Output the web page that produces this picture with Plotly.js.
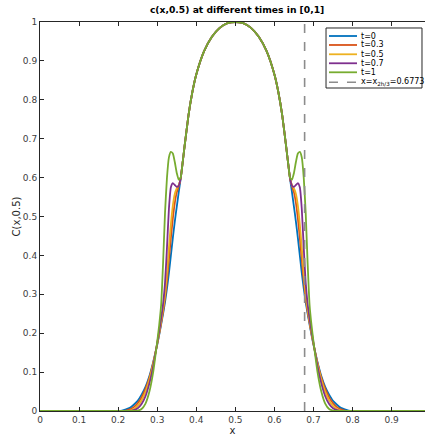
<!DOCTYPE html>
<html>
<head>
<meta charset="utf-8">
<script src="https://cdn.plot.ly/plotly-3.0.1.min.js"></script>
<style>html,body{margin:0;padding:0;background:#fff;}#chart{width:425px;height:437px;}</style>
</head>
<body>
<div id="chart"></div>
<script>
// x grid (left half, center, right half)
const xLeft = [0, 0.20, 0.21, 0.22, 0.23, 0.24, 0.25, 0.26, 0.27, 0.28, 0.29, 0.30, 0.305, 0.31, 0.315, 0.32, 0.325, 0.33, 0.335, 0.34, 0.345, 0.35, 0.355, 0.36, 0.365, 0.37, 0.38, 0.39, 0.40, 0.42, 0.44, 0.46, 0.48];
const xCenter = [0.50];
const xRight = [0.52, 0.54, 0.56, 0.58, 0.60, 0.61, 0.62, 0.63, 0.635, 0.64, 0.645, 0.65, 0.655, 0.66, 0.665, 0.67, 0.675, 0.68, 0.685, 0.69, 0.695, 0.70, 0.71, 0.72, 0.73, 0.74, 0.75, 0.76, 0.77, 0.78, 0.79, 0.80, 1.0];

// values, left half (same x order as xLeft)
const domeLeft = [0.68, 0.76, 0.82, 0.865, 0.925, 0.962, 0.985, 0.997];
const t0Left   = [0, 0, 0.001, 0.004, 0.008, 0.016, 0.026, 0.042, 0.062, 0.090, 0.127, 0.170, 0.195, 0.222, 0.250, 0.280, 0.315, 0.355, 0.400, 0.445, 0.487, 0.525, 0.562, 0.597, 0.638];
const t03Left  = [0, 0, 0, 0.001, 0.004, 0.010, 0.020, 0.035, 0.057, 0.086, 0.125, 0.172, 0.198, 0.226, 0.255, 0.290, 0.335, 0.390, 0.445, 0.495, 0.535, 0.562, 0.578, 0.598, 0.638];
const t05Left  = [0, 0, 0, 0, 0.001, 0.005, 0.013, 0.027, 0.049, 0.081, 0.122, 0.173, 0.200, 0.230, 0.262, 0.300, 0.355, 0.420, 0.480, 0.528, 0.558, 0.572, 0.580, 0.598, 0.638];
const t07Left  = [0, 0, 0, 0, 0, 0.002, 0.007, 0.018, 0.038, 0.071, 0.116, 0.175, 0.205, 0.238, 0.275, 0.330, 0.420, 0.520, 0.575, 0.586, 0.581, 0.576, 0.579, 0.598, 0.638];
const t1Left   = [0, 0, 0, 0, 0, 0, 0.001, 0.005, 0.019, 0.050, 0.102, 0.178, 0.220, 0.272, 0.380, 0.510, 0.600, 0.652, 0.666, 0.662, 0.640, 0.612, 0.595, 0.600, 0.638];
const centerVal = [1.0];

// values, right half (same x order as xRight)
const domeRight = [0.997, 0.985, 0.962, 0.925, 0.865, 0.82, 0.76, 0.68];
const t0Right   = [0.638, 0.597, 0.562, 0.525, 0.487, 0.445, 0.400, 0.355, 0.315, 0.280, 0.250, 0.222, 0.195, 0.170, 0.127, 0.090, 0.062, 0.042, 0.026, 0.016, 0.008, 0.004, 0.001, 0, 0];
const t03Right  = [0.638, 0.598, 0.578, 0.562, 0.535, 0.495, 0.445, 0.390, 0.335, 0.290, 0.255, 0.226, 0.198, 0.172, 0.125, 0.086, 0.057, 0.035, 0.020, 0.010, 0.004, 0.001, 0, 0, 0];
const t05Right  = [0.638, 0.598, 0.580, 0.572, 0.558, 0.528, 0.480, 0.420, 0.355, 0.300, 0.262, 0.230, 0.200, 0.173, 0.122, 0.081, 0.049, 0.027, 0.013, 0.005, 0.001, 0, 0, 0, 0];
const t07Right  = [0.638, 0.598, 0.579, 0.576, 0.581, 0.586, 0.575, 0.520, 0.420, 0.330, 0.275, 0.238, 0.205, 0.175, 0.116, 0.071, 0.038, 0.018, 0.007, 0.002, 0, 0, 0, 0, 0];
const t1Right   = [0.638, 0.600, 0.595, 0.612, 0.640, 0.662, 0.666, 0.652, 0.600, 0.510, 0.380, 0.272, 0.220, 0.178, 0.102, 0.050, 0.019, 0.005, 0.001, 0, 0, 0, 0, 0, 0];

const seriesNames = ['t=0', 't=0.3', 't=0.5', 't=0.7', 't=1'];
const seriesColors = ['#0072BD', '#D95319', '#EDB120', '#7E2F8E', '#77AC30'];
const frontX = 0.6773;
const frontLabel = 'x=x<sub>2h/3</sub>=0.6773';
const frontColor = '#8c8c8c';

const xs = xLeft.concat(xCenter, xRight);
function full(left, right) {
  return left.concat(domeLeft, centerVal, domeRight, right);
}
const ys = [full(t0Left, t0Right), full(t03Left, t03Right), full(t05Left, t05Right), full(t07Left, t07Right), full(t1Left, t1Right)];

const traces = ys.map((y, i) => ({
  x: xs, y: y, type: 'scatter', mode: 'lines', name: seriesNames[i],
  line: {color: seriesColors[i], width: 1.8, shape: 'spline', smoothing: 0.5}
}));
traces.push({
  x: [frontX, frontX], y: [0, 1], type: 'scatter', mode: 'lines', name: frontLabel,
  line: {color: frontColor, width: 1.6, dash: 'dash'}
});

// compact MATLAB-style legend (paper coordinates)
const legBox = {x0: 0.7429, x1: 0.9922, y0: 0.8303, y1: 0.9846};
const legRows = [0.9640, 0.9409, 0.9170, 0.8939, 0.8707, 0.8450];
const legLineX = [0.7506, 0.8234];
const legTextX = 0.8286;
const legNames = seriesNames.concat([frontLabel]);
const legColors = seriesColors.concat([frontColor]);

const shapes = [{type: 'rect', xref: 'paper', yref: 'paper', x0: legBox.x0, x1: legBox.x1, y0: legBox.y0, y1: legBox.y1,
  fillcolor: '#fff', line: {color: '#262626', width: 1}, layer: 'above'}];
const annotations = [];
legRows.forEach((ry, i) => {
  shapes.push({type: 'line', xref: 'paper', yref: 'paper', x0: legLineX[0], x1: legLineX[1], y0: ry, y1: ry,
    line: {color: legColors[i], width: i === 5 ? 1.4 : 1.8, dash: i === 5 ? 'dash' : 'solid'}, layer: 'above'});
  annotations.push({xref: 'paper', yref: 'paper', x: legTextX, y: ry, xanchor: 'left', yanchor: 'middle',
    text: legNames[i], showarrow: false, font: {family: 'DejaVu Sans, sans-serif', size: 8, color: '#000'}});
});

const font = {family: 'DejaVu Sans, sans-serif', size: 9, color: '#404040'};
const layout = {
  width: 425, height: 437,
  margin: {l: 40, r: 0, t: 22, b: 26},
  paper_bgcolor: '#fff', plot_bgcolor: '#fff',
  font: font,
  showlegend: false,
  shapes: shapes,
  annotations: annotations,
  title: {text: '<b>c(x,0.5) at different times in [0,1]</b>', font: {family: 'DejaVu Sans, sans-serif', size: 9.2, color: '#000'}, x: 0.512, xref: 'paper', xanchor: 'center', y: 0.984, yref: 'container', yanchor: 'top'},
  xaxis: {
    range: [0, 0.9854], tickvals: [0,0.1,0.2,0.3,0.4,0.5,0.6,0.7,0.8,0.9], ticktext: ['0','0.1','0.2','0.3','0.4','0.5','0.6','0.7','0.8','0.9'],
    ticks: 'inside', ticklen: 4, tickcolor: '#262626', showline: true, linecolor: '#262626', linewidth: 1,
    mirror: 'ticks', showgrid: false, zeroline: false,
    title: {text: 'x', font: {family: 'DejaVu Sans, sans-serif', size: 10, color: '#262626'}, standoff: 3},
    automargin: false
  },
  yaxis: {
    range: [0, 1], dtick: 0.1, tick0: 0,
    ticks: 'inside', ticklen: 4, tickcolor: '#262626', showline: true, linecolor: '#262626', linewidth: 1,
    mirror: false, showgrid: false, zeroline: false,
    title: {text: 'C(x,0.5)', font: {family: 'DejaVu Sans, sans-serif', size: 10, color: '#262626'}, standoff: 0},
    automargin: false
  }
};
Plotly.newPlot('chart', traces, layout, {staticPlot: true, displayModeBar: false});
</script>
</body>
</html>
